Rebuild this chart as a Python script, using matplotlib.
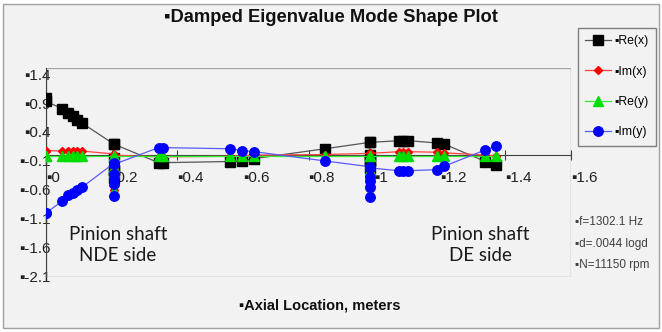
import matplotlib
matplotlib.use('Agg')
import matplotlib.pyplot as plt
from matplotlib.patches import Rectangle

plt.rcParams['font.family'] = ['Liberation Sans', 'DejaVu Sans']

# axial node locations (m), repeated x = several nodes at the same station
x_nodes = [0.0, 0.0, 0.050, 0.066, 0.081, 0.095, 0.111,
           0.207, 0.207, 0.207, 0.207, 0.207, 0.207,
           0.343, 0.357, 0.562, 0.597, 0.634, 0.850,
           0.986, 0.986, 0.986, 0.986, 0.986, 0.986,
           1.077, 1.088, 1.102, 1.193, 1.214, 1.339, 1.371]

re_x = [0.98, 0.93, 0.80, 0.73, 0.67, 0.61, 0.55,
        0.19, -0.05, -0.25, -0.40, -0.25, 0.19,
        -0.13, -0.13, -0.11, -0.10, -0.06, 0.11,
        0.22, 0.0, -0.10, -0.22, -0.10, 0.22,
        0.25, 0.25, 0.25, 0.21, 0.19, -0.11, -0.17]

im_x = [0.08, 0.08, 0.07, 0.07, 0.07, 0.07, 0.07,
        0.02, -0.20, -0.45, -0.60, -0.30, 0.0,
        -0.03, -0.03, -0.02, -0.01, 0.0, 0.01,
        0.03, -0.20, -0.45, -0.60, -0.30, 0.03,
        0.06, 0.06, 0.06, 0.05, 0.04, 0.0, -0.01]

re_y = [-0.02, -0.02, -0.02, -0.02, -0.02, -0.02, -0.02,
        -0.02, -0.20, -0.45, -0.62, -0.30, -0.02,
        -0.02, -0.02, -0.02, -0.02, -0.02, -0.02,
        -0.02, -0.25, -0.50, -0.65, -0.30, -0.02,
        -0.02, -0.02, -0.02, -0.02, -0.02, -0.02, -0.02]

im_y = [-1.00, -1.00, -0.79, -0.69, -0.65, -0.61, -0.55,
        -0.14, -0.32, -0.50, -0.70, -0.42, -0.16,
        0.13, 0.13, 0.11, 0.08, 0.06, -0.10,
        -0.20, -0.38, -0.55, -0.73, -0.45, -0.22,
        -0.27, -0.27, -0.27, -0.25, -0.19, 0.09, 0.15]

x_ticks = [0, 0.2, 0.4, 0.6, 0.8, 1.0, 1.2, 1.4, 1.6]
x_labels = ['▪0', '▪0.2', '▪0.4', '▪0.6', '▪0.8', '▪1', '▪1.2', '▪1.4', '▪1.6']
y_ticks = [1.4, 0.9, 0.4, -0.1, -0.6, -1.1, -1.6, -2.1]
y_labels = ['▪1.4', '▪0.9', '▪0.4', '▪-0.1', '▪-0.6', '▪-1.1', '▪-1.6', '▪-2.1']

info = ['▪f=1302.1 Hz', '▪d=.0044 logd', '▪N=11150 rpm']

bg = '#f2f2f2'
fig = plt.figure(figsize=(6.62, 3.32), dpi=100, facecolor='white')
fig.patches.append(Rectangle((3 / 662, 4 / 332), 656 / 662, 324 / 332, transform=fig.transFigure,
                             facecolor=bg, edgecolor='#a0a0a0', lw=1, zorder=-5))

ax = fig.add_axes([46 / 662, 55.3 / 332, 525 / 662, 208.4 / 332])
ax.patch.set_alpha(0)
ax.set_xlim(0, 1.6)
ax.set_ylim(-2.1, 1.5)

# plot-area frame
ax.add_patch(Rectangle((0, 0), 1, 1, transform=ax.transAxes, fill=False,
                       edgecolor='#a6a6a6', lw=1, zorder=1))

ax.plot(x_nodes, re_x, color='#555555', lw=0.9, marker='s', ms=6.5, mfc='black', mec='black',
        label='▪Re(x)', zorder=3)
ax.plot(x_nodes, im_x, color='#ff4040', lw=0.9, marker='D', ms=4, mfc='red', mec='red',
        label='▪Im(x)', zorder=4)
ax.plot(x_nodes, re_y, color='#33ee33', lw=0.9, marker='^', ms=6.5, mfc='#00dd00', mec='#00dd00',
        label='▪Re(y)', zorder=5)
ax.plot(x_nodes, im_y, color='#5a5aff', lw=0.9, marker='o', ms=6.8, mfc='#0000ff', mec='#0000ff',
        label='▪Im(y)', zorder=6)

for s in ['top', 'right']:
    ax.spines[s].set_visible(False)
ax.spines['bottom'].set_position(('data', 0))
ax.spines['bottom'].set_color('#404040')
ax.spines['left'].set_color('#404040')
ax.spines['bottom'].set_zorder(2)
ax.spines['left'].set_zorder(2)

ax.set_xticks(x_ticks)
ax.set_xticklabels(x_labels)
ax.set_yticks(y_ticks)
ax.set_yticklabels(y_labels)
ax.tick_params(axis='x', direction='inout', length=7, width=0.8, color='#404040',
               pad=8, labelsize=11, labelcolor='#222222')
ax.tick_params(axis='y', length=0, pad=-3, labelsize=11, labelcolor='#222222')
for lab in ax.get_xticklabels():
    lab.set_horizontalalignment('left')

ax.text(0.137, 0.152, 'Pinion shaft\nNDE side', transform=ax.transAxes, ha='center', va='center',
        fontsize=13.5, family='Lato', color='#1a1a1a', linespacing=1.25)
ax.text(0.827, 0.152, 'Pinion shaft\nDE side', transform=ax.transAxes, ha='center', va='center',
        fontsize=13.5, family='Lato', color='#1a1a1a', linespacing=1.25)

fig.text(0.5, 1 - 18 / 332, '▪Damped Eigenvalue Mode Shape Plot', ha='center', va='center',
         fontsize=13.2, fontweight='bold', color='#111111')
fig.text(0.483, 1 - 305 / 332, '▪Axial Location, meters', ha='center', va='center',
         fontsize=10.5, fontweight='bold', color='#111111')

for i, t in enumerate(info):
    fig.text(575 / 662, 1 - (222 + 21.5 * i) / 332, t, ha='left', va='center',
             fontsize=8.5, color='#404040')

leg = fig.legend(loc='upper left', bbox_to_anchor=(578 / 662, 1 - 28 / 332), fontsize=8.8,
                 handlelength=2.1, handletextpad=0.3, labelspacing=1.5, borderpad=0.6,
                 borderaxespad=0, fancybox=False, framealpha=1, facecolor=bg, edgecolor='#808080')
leg.get_frame().set_linewidth(1)

fig.savefig('out.png', dpi=100, facecolor=fig.get_facecolor())
